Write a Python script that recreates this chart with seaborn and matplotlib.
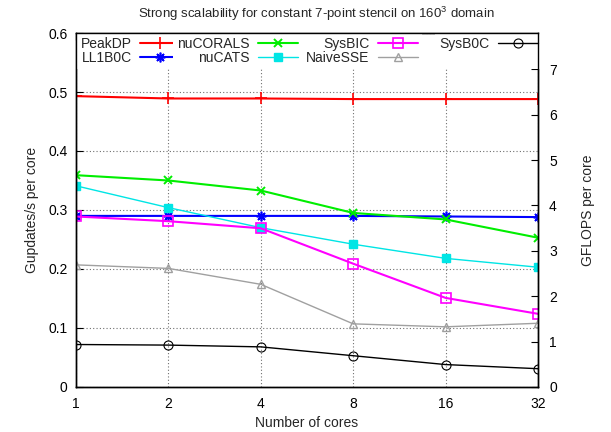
import matplotlib
matplotlib.use("Agg")
import matplotlib.pyplot as plt
from matplotlib.lines import Line2D
import seaborn as sns
import pandas as pd

cores = [1, 2, 4, 8, 16, 32]
peak_dp = [0.493, 0.489, 0.489, 0.488, 0.488, 0.488]
ll1b0c = [0.290, 0.290, 0.290, 0.290, 0.289, 0.288]
nucorals = [0.359, 0.350, 0.333, 0.295, 0.284, 0.253]
nucats = [0.341, 0.304, 0.270, 0.242, 0.218, 0.203]
sysbic = [0.289, 0.281, 0.269, 0.209, 0.151, 0.124]
naivesse = [0.207, 0.201, 0.174, 0.107, 0.102, 0.108]
sysb0c = [0.072, 0.071, 0.068, 0.053, 0.038, 0.031]

flops_per_update = 13  # 7-point stencil

sns.set_theme(style="white")
plt.rcParams["font.family"] = ["Liberation Sans", "DejaVu Sans"]
plt.rcParams["mathtext.default"] = "regular"
plt.rcParams["xtick.direction"] = "in"
plt.rcParams["ytick.direction"] = "in"

fig = plt.figure(figsize=(6.11, 4.32), dpi=100)
ax = fig.add_axes([0.1244, 0.1042, 0.7561, 0.8194])

series = [
    ("PeakDP", peak_dp, dict(color="#ff0000", marker="+", ms=8, mew=1.2, lw=1.5)),
    ("LL1B0C", ll1b0c, dict(color="#0000ff", marker=(8, 2, 0), ms=7, mew=1.2, lw=1.5)),
    ("nuCORALS", nucorals, dict(color="#00ee00", marker="x", ms=6, mew=1.4, lw=1.5)),
    ("nuCATS", nucats, dict(color="#00e5e5", marker="s", ms=6, mew=1, lw=1.0)),
    ("SysBIC", sysbic, dict(color="#ff00ff", marker="s", ms=6.5, mew=1.2, lw=1.5, mfc="none")),
    ("NaiveSSE", naivesse, dict(color="#a0a0a0", marker="^", ms=6, mew=1.0, lw=1.0, mfc="none")),
    ("SysB0C", sysb0c, dict(color="#000000", marker="o", ms=6.5, mew=0.8, lw=1.0, mfc="none")),
]

handles = {}
for name, vals, st in series:
    df = pd.DataFrame({"cores": cores, "rate": vals})
    color = st.pop("color")
    sns.lineplot(data=df, x="cores", y="rate", ax=ax, color=color, label=name,
                 markeredgecolor=color, **st)
    handles[name] = ax.get_lines()[-1]

ax.set_xscale("log", base=2)
ax.set_xlim(1, 32)
ax.set_xticks(cores)
ax.set_xticklabels([str(c) for c in cores])
ax.minorticks_off()
ax.set_ylim(0, 0.6)
ax.set_yticks([0, 0.1, 0.2, 0.3, 0.4, 0.5, 0.6])
ax.set_yticklabels(["0", "0.1", "0.2", "0.3", "0.4", "0.5", "0.6"])
ax.grid(True, color="#707070", linestyle=(0, (1, 2)), linewidth=0.8)
ax.tick_params(axis="x", labelsize=10, length=5, width=0.8, top=True, pad=7, colors="black")
ax.tick_params(axis="y", labelsize=10, length=5, width=0.8, right=False, pad=6, colors="black")
for sp in ax.spines.values():
    sp.set_color("black")
    sp.set_linewidth(1.0)
ax.set_xlabel("Number of cores", fontsize=10, labelpad=4)
ax.set_ylabel("Gupdates/s per core", fontsize=10, labelpad=7)
ax.set_title("Strong scalability for constant 7-point stencil on 160$^3$ domain",
             fontsize=9.5, pad=11, x=0.52)

ax2 = ax.twinx()
ax2.set_ylim(0, 0.6 * flops_per_update)
ax2.set_yticks(range(0, 8))
ax2.tick_params(axis="y", labelsize=10, length=5, width=0.8, direction="in", pad=8, colors="black")
ax2.set_ylabel("GFLOPS per core", fontsize=10, labelpad=17)
# mirrored x ticks along the top border, drawn above the key
ax2.xaxis.set_visible(True)
ax2.tick_params(axis="x", which="both", bottom=False, top=True, labelbottom=False,
                labeltop=False, direction="in", length=5, width=0.8, colors="black")
for sp in ax2.spines.values():
    sp.set_color("black")
    sp.set_linewidth(1.0)
    sp.set_zorder(3)

# key laid out in four columns, label text right-aligned before each sample
ax.get_legend().remove()
blank = Line2D([], [], color="none")
columns = [
    (["PeakDP", "LL1B0C"], 0.234),
    (["nuCORALS", "nuCATS"], 0.4896),
    (["SysBIC", "NaiveSSE"], 0.749),
    (["SysB0C", None], 1.009),
]
for names, xr in columns:
    hs = [handles[n] if n else blank for n in names]
    labels = [n if n else " " for n in names]
    leg = ax2.legend(hs, labels, loc="upper right", bbox_to_anchor=(xr, 1.0),
                     bbox_transform=ax.transAxes, markerfirst=False, frameon=True,
                     fontsize=10, handlelength=2.9, handletextpad=0.58,
                     borderpad=0.3, borderaxespad=0, labelspacing=0.0, fancybox=False)
    leg.get_frame().set_facecolor("white")
    leg.get_frame().set_edgecolor("white")
    leg.get_frame().set_alpha(1.0)
    leg.get_frame().set_linewidth(0)
    leg.set_zorder(2)
    ax2.add_artist(leg)

fig.savefig("out.png", dpi=100)
